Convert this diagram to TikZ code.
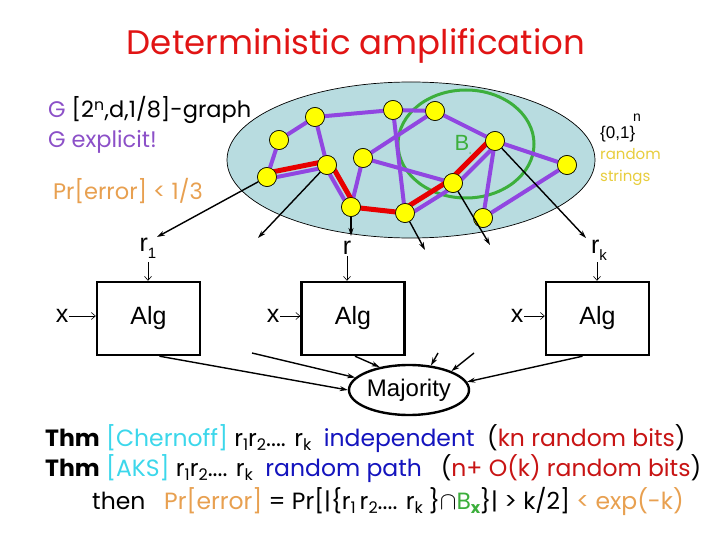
\documentclass[tikz,border=0pt]{standalone}
\usepackage{fontspec}
\setmainfont{Liberation Sans}
\newfontfamily\comic{Poppins}
\usetikzlibrary{arrows.meta,shapes.geometric}
\definecolor{ellfill}{RGB}{184,220,224}
\definecolor{gpurple}{RGB}{145,70,225}
\definecolor{gred}{RGB}{232,0,0}
\definecolor{ggreen}{RGB}{60,175,60}
\definecolor{gyellow}{RGB}{255,255,0}
\definecolor{titlered}{RGB}{225,20,20}
\definecolor{orangetxt}{RGB}{232,160,80}
\definecolor{yellowtxt}{RGB}{232,205,60}
\definecolor{cyantxt}{RGB}{60,215,235}
\definecolor{bluetxt}{RGB}{20,20,190}
\definecolor{redtxt}{RGB}{200,20,20}
\definecolor{ptxt}{RGB}{140,80,200}
\newcommand{\lowi}[1]{\raisebox{-0.35ex}{\fontsize{16}{16}\selectfont #1}}
\begin{document}
\begin{tikzpicture}[x=1pt,y=-1pt,
  vert/.style={circle,draw=black,fill=gyellow,minimum size=19pt,inner sep=0pt,line width=0.6pt},
  pedge/.style={gpurple,line width=4pt},
  redge/.style={gred,line width=5pt},
  ptr/.style={-{Stealth[length=8pt,width=5pt]},line width=1.4pt},
  thinarr/.style={-{Straight Barb[length=4pt,width=7pt]},line width=0.6pt},
  algbox/.style={draw,line width=2.4pt,minimum width=103pt,minimum height=73pt,inner sep=0pt,font=\fontsize{25}{27}\selectfont},
  lbl/.style={inner sep=1pt,font=\fontsize{25}{27}\selectfont},
  comictxt/.style={inner sep=0pt,font=\comic\fontsize{22.5}{26}\selectfont},
  thmtxt/.style={inner sep=0pt,anchor=base west,font=\comic\fontsize{23.5}{27}\selectfont}
]
\useasboundingbox (0,0) rectangle (720,540);
\fill[white] (0,0) rectangle (720,540);

% title
\node[inner sep=0pt,font=\comic\fontsize{34}{38}\selectfont,text=titlered] (title) at (356,46) {Deterministic amplification};

% texts top left
\node[comictxt,anchor=base west] (t1) at (48,118) {\textcolor{ptxt}{G} [2\textsuperscript{n},d,1/8]-graph};
\node[comictxt,anchor=base west,text=ptxt] (t2) at (48,148) {G explicit!};
\node[comictxt,anchor=base west,text=orangetxt] (t3) at (53,200) {Pr[error] < 1/3};

% ellipse of strings
\node[ellipse,draw=black,line width=0.7pt,fill=ellfill,minimum width=368pt,minimum height=156pt,inner sep=0pt] (space) at (411,160) {};

% {0,1}^n, random strings
\node[inner sep=0pt,font=\fontsize{17}{18}\selectfont,anchor=base west] (bits) at (600,139) {\{0,1\}};
\node[inner sep=0pt,font=\fontsize{14}{15}\selectfont,anchor=base west] (nexp) at (633,122) {n};
\node[comictxt,font=\comic\fontsize{15}{16}\selectfont,text=yellowtxt,anchor=base west] (rs1) at (600,160) {random};
\node[comictxt,font=\comic\fontsize{15}{16}\selectfont,text=yellowtxt,anchor=base west] (rs2) at (600,182) {strings};

% vertices
\node[vert] (v1) at (315,117) {};
\node[vert] (v2) at (279,140) {};
\node[vert] (v3) at (267,177) {};
\node[vert] (v4) at (327,165) {};
\node[vert] (v5) at (393,110) {};
\node[vert] (v6) at (363,158) {};
\node[vert] (v7) at (351,207) {};
\node[vert] (v8) at (405,213) {};
\node[vert] (v9) at (435,111) {};
\node[vert] (v10) at (495,141) {};
\node[vert] (v11) at (453,183) {};
\node[vert] (v12) at (567,165) {};
\node[vert] (v13) at (483,218) {};

% green set B
\node[ellipse,draw=ggreen,line width=3pt,minimum width=136pt,minimum height=108pt,inner sep=0pt] (Bset) at (466,144) {};
\node[inner sep=0pt,font=\fontsize{22}{24}\selectfont,text=ggreen] (Blbl) at (463,145) {B\raisebox{-0.4ex}{\fontsize{4}{4}\selectfont x}};

% arrows out of the graph
\coordinate (a1) at (157,237);
\coordinate (a2) at (258,238);
\coordinate (a3) at (351,236);
\coordinate (a4) at (425,250);
\coordinate (a5) at (490,245);
\coordinate (a6) at (586,238);

% edges
\begin{scope}[pedge]
\draw (v1.center) -- (v2.center);
\draw (v2.center) -- (v3.center);
\draw ([yshift=-2pt]v3.center) -- ([yshift=-2pt]v4.center);
\draw (v1.center) -- (v4.center);
\draw (v1.center) -- (v5.center);
\draw ([shift={(-2,1)}]v4.center) -- ([shift={(-2,1)}]v7.center);
\draw (v6.center) -- (v7.center);
\draw (v6.center) -- (v9.center);
\draw (v5.center) -- (v9.center);
\draw (v5.center) -- (v8.center);
\draw (v6.center) -- (v11.center);
\draw (v7.center) -- (v8.center);
\draw ([shift={(2,3)}]v8.center) -- ([shift={(2,3)}]v11.center);
\draw ([shift={(2.5,2.5)}]v11.center) -- ([shift={(2.5,2.5)}]v10.center);
\draw (v9.center) -- (v10.center);
\draw (v10.center) -- (v12.center);
\draw (v10.center) -- (v13.center);
\draw (v13.center) -- (v12.center);
\end{scope}
\begin{scope}[redge]
\draw ([yshift=4pt]v3.center) -- ([yshift=4pt]v4.center);
\draw ([shift={(3.5,-2)}]v4.center) -- ([shift={(3.5,-2)}]v7.center);
\draw (v7.center) -- (v8.center);
\draw ([shift={(-2,-3.5)}]v8.center) -- ([shift={(-2,-3.5)}]v11.center);
\draw ([shift={(-3,-3)}]v11.center) -- ([shift={(-3,-3)}]v10.center);
\end{scope}
\foreach \v in {v1,v2,v3,v4,v5,v6,v7,v8,v9,v10,v11,v12,v13}
  \node[vert] at (\v) {};

\draw[ptr] (v3) -- (a1);
\draw[ptr] (v4) -- (a2);
\draw[ptr] (v7) -- (a3);
\draw[ptr] (v8) -- (a4);
\draw[ptr] (v11) -- (a5);
\draw[ptr] (v10) -- (a6);

% random string labels
\node[lbl] (r1) at (148,248) {r\raisebox{-0.5ex}{\fontsize{15}{15}\selectfont 1}};
\node[lbl] (r) at (347,248) {r};
\node[lbl] (rk) at (599,250) {r\raisebox{-0.5ex}{\fontsize{15}{15}\selectfont k}};

% Alg boxes
\node[algbox] (alg1) at (148.5,318.5) {Alg};
\node[algbox] (alg2) at (353,318.5) {Alg};
\node[algbox] (alg3) at (597.5,318.5) {Alg};

\node[lbl] (x1) at (62,316) {x};
\node[lbl] (x2) at (273,316) {x};
\node[lbl] (x3) at (517,316) {x};

\draw[thinarr] (148,262) -- (alg1.north -| 148,0);
\draw[thinarr] (r) -- (alg2.north -| r);
\draw[thinarr] (597,262) -- (alg3.north -| 597,0);
\draw[thinarr] (x1) -- (alg1.west |- x1);
\draw[thinarr] (x2) -- (alg2.west |- x2);
\draw[thinarr] (x3) -- (alg3.west |- x3);

% Majority
\node[ellipse,draw,line width=2.4pt,minimum width=120pt,minimum height=50pt,inner sep=0pt,font=\fontsize{24}{26}\selectfont] (maj) at (409,390) {Majority};

\coordinate (c1) at (252,353);
\coordinate (c2) at (438,353);
\coordinate (c3) at (474,353);
\draw[ptr] ([xshift=11pt]alg1.south) -- (maj.west);
\draw[ptr] (c1) -- (maj.167);
\draw[ptr] ([xshift=2pt]alg2.south) -- (maj.142);
\draw[ptr] (c2) -- (maj.48);
\draw[ptr] (c3) -- (maj.24);
\draw[ptr] ([xshift=-15pt]alg3.south) -- (maj.8);

% theorems
\node[thmtxt] (thm1) at (45,446) {{\bfseries Thm} \textcolor{cyantxt}{[Chernoff]} r\lowi{1}r\lowi{2}.... r\lowi{k}\ \ \textcolor{bluetxt}{independent}\ \ (\textcolor{redtxt}{kn random bits})};
\node[thmtxt] (thm2) at (45,476) {{\bfseries Thm} \textcolor{cyantxt}{[AKS]} r\lowi{1}r\lowi{2}.... r\lowi{k}\ \ \textcolor{bluetxt}{random path}\ \ \ (\textcolor{redtxt}{n+ O(k) random bits})};
\node[thmtxt] (thm3) at (92,509) {then\ \ \ \textcolor{orangetxt}{Pr[error]} = Pr[|\{r\lowi{1}\,r\lowi{2}.... r\lowi{k}\ \}$\cap$\textcolor{ggreen}{B\lowi{\bfseries x}}\}| > k/2] \textcolor{orangetxt}{< exp(-k)}};
\end{tikzpicture}
\end{document}
